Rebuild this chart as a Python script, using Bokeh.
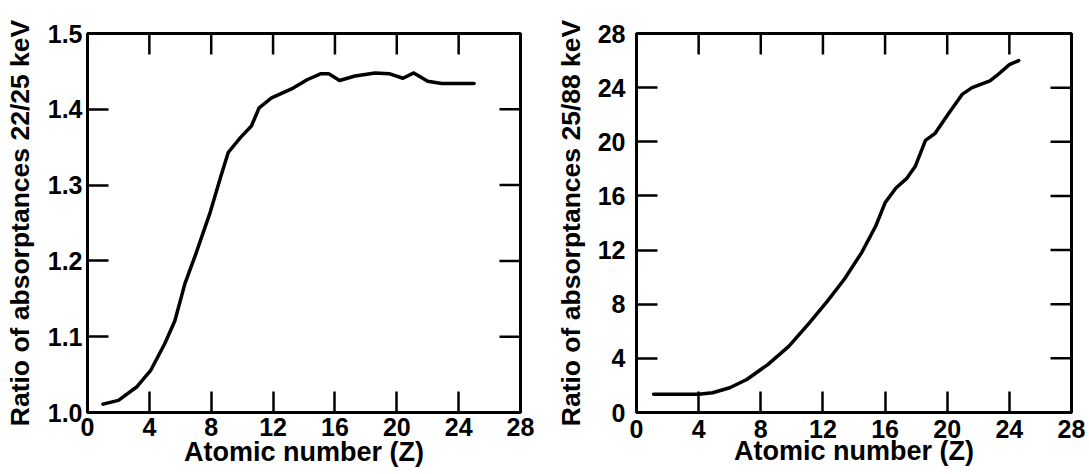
import math
from bokeh.plotting import figure
from bokeh.layouts import row
from bokeh.models import FixedTicker, Range1d, PrintfTickFormatter
from bokeh.embed import file_html
from bokeh.resources import INLINE

# ---- data ----
z_left = [1.0, 2.0, 3.2, 4.1, 5.0, 5.65, 6.3, 7.0, 7.9, 8.6, 9.1, 9.9, 10.6, 11.1,
          11.9, 13.3, 14.2, 15.1, 15.6, 16.3, 17.3, 18.6, 19.5, 20.4, 21.1, 22.0, 22.9, 25.0]
ratio_22_25 = [1.011, 1.016, 1.034, 1.056, 1.091, 1.121, 1.170, 1.209, 1.262, 1.310, 1.343,
               1.363, 1.378, 1.402, 1.415, 1.428, 1.439, 1.447, 1.447, 1.438, 1.444, 1.448,
               1.447, 1.441, 1.448, 1.437, 1.434, 1.434]

z_right = [1.1, 4.0, 4.9, 6.0, 7.1, 8.45, 9.8, 11.1, 12.25, 13.4, 14.5, 15.4, 16.0, 16.7,
           17.4, 17.95, 18.6, 19.2, 20.1, 20.96, 21.6, 22.75, 23.2, 24.0, 24.6]
ratio_25_88 = [1.34, 1.34, 1.46, 1.83, 2.44, 3.54, 4.88, 6.59, 8.17, 9.88, 11.83, 13.78, 15.49,
               16.59, 17.3, 18.2, 20.1, 20.6, 22.1, 23.5, 24.0, 24.5, 24.9, 25.7, 26.0]

x_ticks = [0, 4, 8, 12, 16, 20, 24, 28]
y_ticks_left = [1.0, 1.1, 1.2, 1.3, 1.4, 1.5]
y_ticks_right = [0, 4, 8, 12, 16, 20, 24, 28]

x_label = "Atomic number (Z)"
y_label_left = "Ratio of absorptances 22/25 keV"
y_label_right = "Ratio of absorptances 25/88 keV"

FONT = "Liberation Sans"
TICK_LEN = 21


def style_axis(ax, ticks, fmt=None, standoff=6, label_standoff=0, label_size="26px"):
    ax.ticker = FixedTicker(ticks=ticks)
    ax.minor_tick_line_color = None
    ax.major_tick_in = TICK_LEN
    ax.major_tick_out = 0
    ax.major_tick_line_width = 2.5
    ax.major_tick_line_color = "black"
    ax.axis_line_width = 3
    ax.axis_line_color = "black"
    ax.major_label_text_font = FONT
    ax.major_label_text_font_style = "bold"
    ax.major_label_text_color = "black"
    ax.major_label_text_font_size = "25px"
    ax.major_label_standoff = standoff
    if fmt is not None:
        ax.formatter = fmt
    ax.axis_label_text_font = FONT
    ax.axis_label_text_font_style = "bold"
    ax.axis_label_text_font_size = label_size
    ax.axis_label_text_color = "black"
    ax.axis_label_standoff = label_standoff


def make_panel(xs, ys, yr, yticks, ylabel, width, bl, br, bt, bb, fmt,
               xstand, xlab_stand, ystand, ylab_stand):
    p = figure(width=width, height=474, x_range=Range1d(0, 28), y_range=Range1d(*yr),
               output_backend="svg", toolbar_location=None,
               min_border_left=bl, min_border_right=br, min_border_top=bt, min_border_bottom=bb)
    p.grid.visible = False
    p.outline_line_color = "black"
    p.outline_line_width = 3
    p.background_fill_color = "white"
    p.border_fill_color = "white"

    style_axis(p.xaxis[0], x_ticks, standoff=xstand, label_standoff=xlab_stand,
               label_size="27px")
    p.xaxis[0].axis_label = x_label
    style_axis(p.yaxis[0], yticks, fmt=fmt, standoff=ystand, label_standoff=ylab_stand,
               label_size="26.5px")
    p.yaxis[0].axis_label = ylabel

    # mirrored inward ticks on the top and right frame edges (clipped to the frame)
    inner_x = x_ticks[1:-1]
    inner_y = yticks[1:-1]
    p.scatter(inner_x, [yr[1]] * len(inner_x), marker="dash", size=2 * TICK_LEN,
              angle=math.pi / 2, line_color="black", line_width=2.5)
    p.scatter([28] * len(inner_y), inner_y, marker="dash", size=2 * TICK_LEN,
              line_color="black", line_width=2.5)

    p.line(xs, ys, line_color="black", line_width=3.5, line_join="round", line_cap="round")
    return p


p1 = make_panel(z_left, ratio_22_25, (1.0, 1.5), y_ticks_left, y_label_left,
                width=550, bl=87, br=30, bt=31, bb=62,
                fmt=PrintfTickFormatter(format="%.1f"),
                xstand=5, xlab_stand=-2, ystand=5, ylab_stand=10)
p2 = make_panel(z_right, ratio_25_88, (0, 28), y_ticks_right, y_label_right,
                width=539, bl=86, br=18, bt=33, bb=60,
                fmt=None, xstand=7, xlab_stand=-5, ystand=11, ylab_stand=9)

layout = row(p1, p2)
open("out.html", "w").write(file_html(layout, INLINE))
